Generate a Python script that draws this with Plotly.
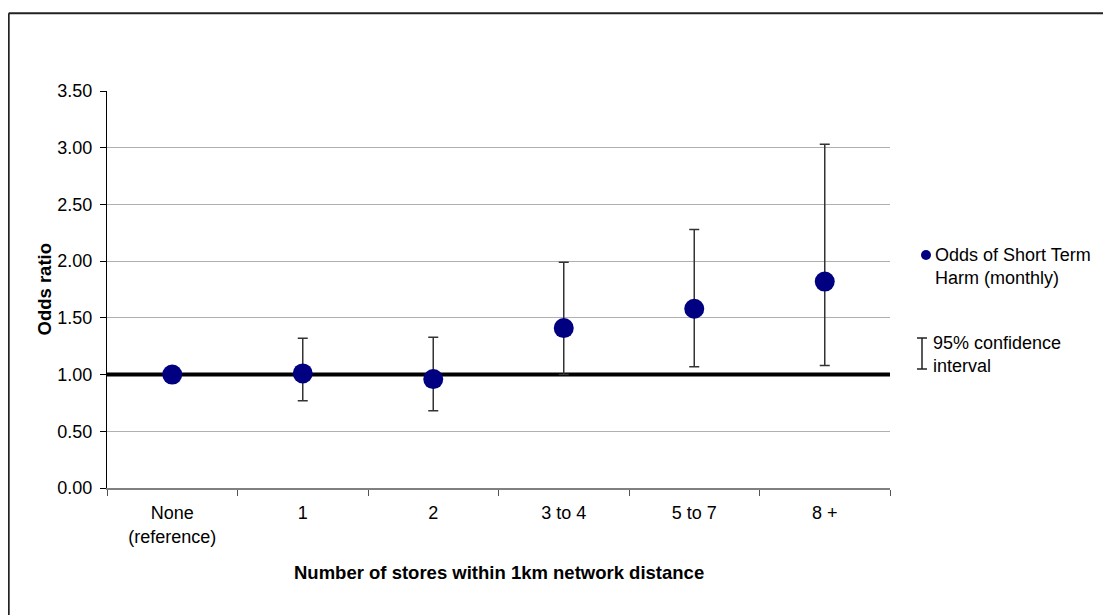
import plotly.graph_objects as go

categories = ["None<br>(reference)", "1", "2", "3 to 4", "5 to 7", "8 +"]
odds = [1.00, 1.01, 0.96, 1.41, 1.58, 1.82]
ci_lower = [1.00, 0.77, 0.68, 1.00, 1.07, 1.08]
ci_upper = [1.00, 1.32, 1.33, 1.99, 2.28, 3.03]
reference_value = 1.0
y_ticks = [0.0, 0.5, 1.0, 1.5, 2.0, 2.5, 3.0, 3.5]

FONT = "Liberation Sans, Arial, sans-serif"
W, H = 1111, 615
OFF = 8  # page body margin
# plot area in screen pixels: x 107..890, y 91..488
L = 107 - OFF
T = 91 - OFF
R = W - (890 - OFF)
B = H - (488 - OFF)
PW, PH = W - L - R, H - T - B


def px(x):
    """screen x pixel -> paper coordinate"""
    return (x - OFF - L) / PW


def py(y):
    """screen y pixel -> paper coordinate"""
    return (H - B - (y - OFF)) / PH


positions = list(range(len(categories)))
x_lo, x_hi = -0.5, len(categories) - 0.5

err_plus = [u - v for u, v in zip(ci_upper, odds)]
err_minus = [v - l for v, l in zip(odds, ci_lower)]

fig = go.Figure()
# reference line at odds ratio 1 (spans whole axis)
fig.add_trace(go.Scatter(
    x=[x_lo, x_hi], y=[reference_value, reference_value], mode="lines",
    line=dict(color="black", width=4), hoverinfo="skip", showlegend=False,
))
fig.add_trace(go.Scatter(
    x=positions, y=odds, mode="markers",
    name="Odds of Short Term Harm (monthly)",
    marker=dict(color="#000080", size=20),
    error_y=dict(type="data", symmetric=False, array=err_plus, arrayminus=err_minus,
                 color="#333333", thickness=1.5, width=5),
    showlegend=False,
))

shapes = [
    # outer frame (left and top edges)
    dict(type="line", xref="paper", yref="paper", x0=px(8.7), x1=px(8.7), y0=py(13.3), y1=py(700),
         line=dict(color="#222222", width=2)),
    dict(type="line", xref="paper", yref="paper", x0=px(8.7), x1=px(1200), y0=py(13.3), y1=py(13.3),
         line=dict(color="#222222", width=2)),
    # legend CI glyph
    dict(type="line", xref="paper", yref="paper", x0=px(922), x1=px(922), y0=py(338), y1=py(369),
         line=dict(color="#222222", width=1.5)),
    dict(type="line", xref="paper", yref="paper", x0=px(917), x1=px(927), y0=py(338), y1=py(338),
         line=dict(color="#222222", width=1.5)),
    dict(type="line", xref="paper", yref="paper", x0=px(917), x1=px(927), y0=py(369), y1=py(369),
         line=dict(color="#222222", width=1.5)),
    # legend marker
    dict(type="circle", xref="paper", yref="paper", xsizemode="pixel", ysizemode="pixel",
         xanchor=px(926), yanchor=py(255), x0=-5, x1=5, y0=-5, y1=5,
         fillcolor="#000080", line=dict(color="#000080", width=0)),
]

annotations = [
    dict(text="<b>Odds ratio</b>", xref="paper", yref="paper", x=px(44), y=py(289.5), textangle=-90,
         showarrow=False, font=dict(family=FONT, size=18.5, color="black"),
         xanchor="center", yanchor="middle"),
    dict(text="<b>Number of stores within 1km network distance</b>", xref="paper", yref="paper",
         x=0.5, y=py(572), showarrow=False, font=dict(family=FONT, size=18.5, color="black"),
         xanchor="center", yanchor="middle"),
    dict(text="Odds of Short Term<br>Harm (monthly)", xref="paper", yref="paper", x=px(933),
         y=py(266), showarrow=False, align="left", font=dict(family=FONT, size=18, color="black"),
         xanchor="left", yanchor="middle"),
    dict(text="95% confidence<br>interval", xref="paper", yref="paper", x=px(931),
         y=py(354.5), showarrow=False, align="left", font=dict(family=FONT, size=18, color="black"),
         xanchor="left", yanchor="middle"),
]

fig.update_layout(
    width=W, height=H,
    margin=dict(l=L, r=R, t=T, b=B, pad=0),
    paper_bgcolor="white", plot_bgcolor="white",
    font=dict(family=FONT, size=18, color="black"),
    shapes=shapes, annotations=annotations,
    showlegend=False,
)
fig.update_xaxes(
    range=[x_lo, x_hi], tickvals=positions, ticktext=categories, ticks="",
    minor=dict(tick0=x_lo, dtick=1, ticks="outside", ticklen=6, tickcolor="#555555", showgrid=False),
    showline=True, linecolor="#808080", linewidth=1.5, showgrid=False, zeroline=False,
    tickfont=dict(family=FONT, size=18), ticklabelstandoff=8,
)
fig.update_yaxes(
    range=[0, 3.5], tickvals=y_ticks, tickformat=".2f", ticks="outside", ticklen=6,
    tickcolor="black", showline=True, linecolor="black", linewidth=1,
    showgrid=True, gridcolor="#b0b0b0", gridwidth=1, zeroline=False,
    tickfont=dict(family=FONT, size=18), ticklabelstandoff=4,
)

fig.write_html("out.html")
